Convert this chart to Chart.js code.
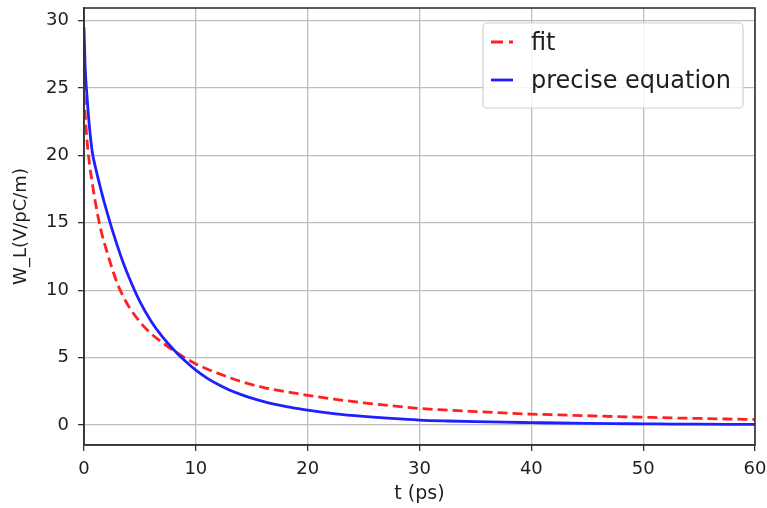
<!DOCTYPE html>
<html><head><meta charset="utf-8">
<script src="https://cdn.jsdelivr.net/npm/chart.js@4/dist/chart.umd.min.js"></script>
<style>html,body{margin:0;padding:0;background:#fff;overflow:hidden}</style>
</head><body>
<canvas id="c" width="767" height="508"></canvas>
<script>
// ---- data ----
const tValues       = [0, 0.1, 0.25, 0.5, 0.75, 1, 1.5, 2, 2.5, 3, 3.5, 4, 5, 6, 7, 8, 9, 10, 11, 12, 13, 14, 15, 16, 17, 18, 19, 20, 22.5, 25, 27.5, 30, 32.5, 35, 37.5, 40, 42.5, 45, 47.5, 50, 52.5, 55, 57.5, 60];
const fitValues     = [24.5, 23.1, 21.3, 19.3, 17.9, 16.6, 14.5, 13.0, 11.65, 10.45, 9.55, 8.8, 7.65, 6.78, 6.12, 5.52, 5.0, 4.53, 4.16, 3.83, 3.52, 3.24, 3.0, 2.8, 2.63, 2.48, 2.34, 2.2, 1.91, 1.65, 1.43, 1.23, 1.11, 1.0, 0.9, 0.81, 0.75, 0.69, 0.63, 0.58, 0.53, 0.49, 0.45, 0.41];
const preciseValues = [29.5, 26.6, 24.6, 22.0, 20.2, 19.2, 17.5, 15.95, 14.55, 13.25, 12.05, 11.0, 9.15, 7.7, 6.55, 5.6, 4.78, 4.07, 3.48, 3.0, 2.6, 2.27, 1.99, 1.76, 1.56, 1.39, 1.24, 1.10, 0.83, 0.64, 0.49, 0.37, 0.30, 0.25, 0.21, 0.18, 0.15, 0.125, 0.105, 0.09, 0.075, 0.065, 0.055, 0.045];
const seriesLabels  = ['fit', 'precise equation'];
const xTicks = [0, 10, 20, 30, 40, 50, 60];
const yTicks = [0, 5, 10, 15, 20, 25, 30];
const xRange = [0, 60];
const yRange = [-1.48, 30.93];

const toPts = (xs, ys) => xs.map((x, i) => ({x, y: ys[i]}));
const FONT = "'DejaVu Sans', sans-serif";
const TXT = '#1e1e1e';

const framePlugin = {
  id: 'frame',
  afterDatasetsDraw(chart) {
    const {ctx, chartArea: a} = chart;
    ctx.save();
    ctx.strokeStyle = '#333';
    ctx.lineWidth = 1.6;
    ctx.strokeRect(a.left, a.top, a.right - a.left, a.bottom - a.top);
    ctx.restore();
  }
};

const legendPlugin = {
  id: 'boxLegend',
  afterDraw(chart) {
    const {ctx, chartArea: a} = chart;
    const w = 260, h = 85;
    const x0 = a.right - 12 - w, y0 = a.top + 15;
    ctx.save();
    ctx.beginPath();
    ctx.roundRect(x0, y0, w, h, 4);
    ctx.fillStyle = 'rgba(255,255,255,0.85)';
    ctx.fill();
    ctx.strokeStyle = '#d0d0d0';
    ctx.lineWidth = 1.2;
    ctx.stroke();
    const ds = chart.data.datasets;
    [0, 1].forEach((idx, r) => {
      const d = ds[idx];
      const yy = y0 + 19 + r * 38;
      ctx.beginPath();
      ctx.setLineDash(d.borderDash ? [12, 6] : []);
      ctx.strokeStyle = d.borderColor;
      ctx.lineWidth = d.borderWidth;
      ctx.moveTo(x0 + 8, yy);
      ctx.lineTo(x0 + 30, yy);
      ctx.stroke();
      ctx.setLineDash([]);
      ctx.fillStyle = TXT;
      ctx.font = '24px ' + FONT;
      ctx.textBaseline = 'middle';
      ctx.textAlign = 'left';
      ctx.fillText(d.label, x0 + 48, yy + 2);
    });
    ctx.restore();
  }
};

new Chart(document.getElementById('c'), {
  type: 'line',
  data: {
    datasets: [
      {label: seriesLabels[0], data: toPts(tValues, fitValues), borderColor: '#ff2020', borderWidth: 2.8,
       borderDash: [10, 5], pointRadius: 0, cubicInterpolationMode: 'monotone', fill: false, order: 2},
      {label: seriesLabels[1], data: toPts(tValues, preciseValues), borderColor: '#1f1fff', borderWidth: 2.8,
       pointRadius: 0, cubicInterpolationMode: 'monotone', fill: false, order: 1}
    ]
  },
  options: {
    responsive: false,
    animation: false,
    devicePixelRatio: 1,
    layout: {padding: {left: 0, right: 12, top: 8, bottom: 0}},
    plugins: {legend: {display: false}, tooltip: {enabled: false}},
    scales: {
      x: {
        type: 'linear', min: xRange[0], max: xRange[1],
        afterBuildTicks: s => { s.ticks = xTicks.map(v => ({value: v})); },
        afterFit: s => { s.height = 63; s.paddingLeft = 0; s.paddingRight = 0; },
        grid: {color: '#bebebe', lineWidth: 1.3, tickColor: '#333', tickLength: 6, tickWidth: 1.3},
        border: {display: true, color: '#333', width: 1.6},
        ticks: {color: TXT, font: {family: FONT, size: 18}, padding: 8, maxRotation: 0},
        title: {display: true, text: 't (ps)', color: TXT, font: {family: FONT, size: 19}, padding: {top: 0, bottom: 3}}
      },
      y: {
        type: 'linear', min: yRange[0], max: yRange[1],
        afterBuildTicks: s => { s.ticks = yTicks.map(v => ({value: v})); },
        afterFit: s => { s.width = 84; s.paddingTop = 0; s.paddingBottom = 0; },
        grid: {color: '#bebebe', lineWidth: 1.3, tickColor: '#333', tickLength: 6, tickWidth: 1.3},
        border: {display: true, color: '#333', width: 1.6},
        ticks: {color: TXT, font: {family: FONT, size: 18}, padding: 9},
        title: {display: true, text: 'W_L(V/pC/m)', color: TXT, font: {family: FONT, size: 18}, padding: {top: 11, bottom: 4}}
      }
    }
  },
  plugins: [framePlugin, legendPlugin]
});
</script>
</body></html>
